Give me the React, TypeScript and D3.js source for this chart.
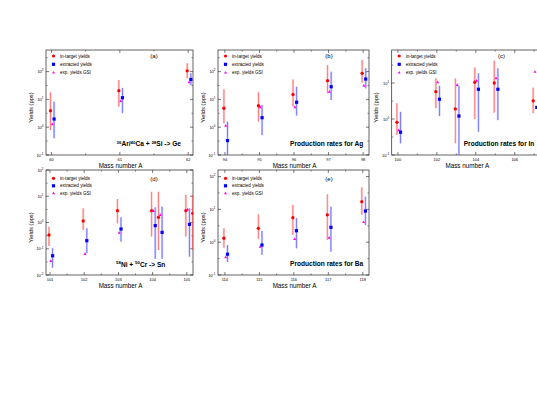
import React from "react";
import * as d3 from "d3";

// ---------- DATA ----------
// (a) Ge
const geMass = [60, 61, 62];
const geInTarget = [3.9, 20.6, 107];
const geInTargetLo = [0.79, 5.5, 57];
const geInTargetHi = [18, 50, 200];
const geExtracted = [1.97, 11.5, 52];
const geExtractedLo = [0.4, 3.2, 33];
const geExtractedHi = [8.3, 26, 87];
const geGSI = [1.27, 8.7, 41];

// (b) Ag
const agMass = [94, 95, 96, 97, 98];
const agInTarget = [4.8, 5.9, 15, 47, 87];
const agInTargetLo = [1.38, 1.6, 5.5, 16.6, 40];
const agInTargetHi = [23, 18, 52, 172, 261];
const agExtracted = [0.33, 2.2, 7.9, 28.6, 54];
const agExtractedLo = [0.05, 0.52, 2.6, 9.5, 25];
const agExtractedHi = [1.58, 6.3, 28.6, 100, 132];
const agGSI = [1.13, 5.2, 5.2, 19, 31];

// (c) In
const inMass = [100, 102, 103, 104, 105, 107];
const inInTarget = [0.81, 5.75, 1.9, 10.5, 10, 3.2];
const inInTargetLo = [0.36, 2.0, 0.21, 1.0, 1.5, 1.45];
const inInTargetHi = [2.73, 13.5, 13.5, 27, 42, 7.4];
const inExtracted = [0.43, 3.55, 1.21, 6.7, 6.7, 2.1];
const inExtractedLo = [0.21, 1.2, 0.08, 0.44, 0.93, 2.1];
const inExtractedHi = [1.58, 8.4, 8.4, 18.6, 25.7, 2.1];
const inGSI = [0.49, 10.5, 8.8, 11.6, 13.5, 20.4];

// (d) Sn (second entries at 104 and 105 drawn slightly to the right)
const snMass = [101, 102, 103, 104, 104.2, 105, 105.2];
const snInTarget = [0.334, 1.14, 2.82, 2.82, 1.58, 2.82, 2.24];
const snInTargetLo = [0.127, 0.52, 0.93, 0.29, 0.089, 0.29, 0.089];
const snInTargetHi = [0.69, 3.47, 7.85, 14.8, 14.8, 11.2, 11.2];
const snGSI = [0.034, 0.063, 0.41, 2.75, 1.93, 3.16, 4.9];
const snExtMass = [101, 102, 103, 104, 104.2, 105];
const snExtracted = [0.054, 0.203, 0.565, 0.76, 0.42, 0.85];
const snExtractedLo = [0.019, 0.068, 0.186, 0.041, 0.041, 0.05];
const snExtractedHi = [0.105, 0.6, 1.58, 3.8, 4.0, 3.47];

// (e) Ba
const baMass = [114, 115, 116, 117, 118];
const baInTarget = [1.32, 2.65, 5.6, 6.8, 17.2];
const baInTargetLo = [0.68, 1.26, 1.66, 1.17, 6.8];
const baInTargetHi = [2.65, 7.1, 13.6, 28.8, 46.8];
const baExtracted = [0.43, 0.82, 2.24, 2.84, 8.9];
const baExtractedLo = [0.25, 0.41, 0.65, 0.51, 3.3];
const baExtractedHi = [0.82, 2.19, 5.4, 12, 24.5];
const baGSI = [0.35, 0.72, 1.26, 1.37, 4.1];

const legendLabels = ["in-target yields", "extracted yields", "exp. yields GSI"];
const xTitle = "Mass number A";
const yTitle = "Yields (pps)";

// ---------- STYLE ----------
const FONT = "'Liberation Sans', Arial, Helvetica, sans-serif";
const RED = "#ff0000";
const BLUE = "#0000ff";
const MAG = "#ff00ff";
const RED_L = "#ff9090";
const BLUE_L = "#9090ff";

type Series = { x: number[]; v: number[]; lo?: number[]; hi?: number[] };

type PanelDef = {
  tag: string;
  left: number; right: number; top: number; bottom: number;
  xDomain: [number, number];
  yDomain: [number, number];
  xMajor: number[]; xMinor: number[];
  yExp: number[];
  red: Series; blue: Series; mag: Series;
  note: string;
};

const panels: PanelDef[] = [
  {
    tag: "(a)", left: 46, right: 193, top: 50, bottom: 155,
    xDomain: [59.92, 62.07], yDomain: [0.1, Math.pow(10, 2.777)],
    xMajor: [60, 61, 62], xMinor: [60.5, 61.5], yExp: [-1, 0, 1, 2],
    red: { x: geMass, v: geInTarget, lo: geInTargetLo, hi: geInTargetHi },
    blue: { x: geMass, v: geExtracted, lo: geExtractedLo, hi: geExtractedHi },
    mag: { x: geMass, v: geGSI },
    note: "ge",
  },
  {
    tag: "(b)", left: 218, right: 369, top: 50, bottom: 155,
    xDomain: [93.8, 98.17], yDomain: [0.1, Math.pow(10, 2.777)],
    xMajor: [94, 95, 96, 97, 98], xMinor: [94.5, 95.5, 96.5, 97.5], yExp: [-1, 0, 1, 2],
    red: { x: agMass, v: agInTarget, lo: agInTargetLo, hi: agInTargetHi },
    blue: { x: agMass, v: agExtracted, lo: agExtractedLo, hi: agExtractedHi },
    mag: { x: agMass, v: agGSI },
    note: "Production rates for Ag",
  },
  {
    tag: "(c)", left: 391.7, right: 541, top: 50, bottom: 155,
    xDomain: [99.68, 107.35], yDomain: [0.1, Math.pow(10, 1.917)],
    xMajor: [100, 102, 104, 106], xMinor: [101, 103, 105, 107], yExp: [-1, 0, 1],
    red: { x: inMass, v: inInTarget, lo: inInTargetLo, hi: inInTargetHi },
    blue: { x: inMass, v: inExtracted, lo: inExtractedLo, hi: inExtractedHi },
    mag: { x: inMass, v: inGSI },
    note: "Production rates for In",
  },
  {
    tag: "(d)", left: 46, right: 193, top: 170, bottom: 275,
    xDomain: [100.883, 105.18], yDomain: [0.01, 100],
    xMajor: [101, 102, 103, 104, 105], xMinor: [101.5, 102.5, 103.5, 104.5], yExp: [-2, -1, 0, 1, 2],
    red: { x: snMass, v: snInTarget, lo: snInTargetLo, hi: snInTargetHi },
    blue: { x: snExtMass, v: snExtracted, lo: snExtractedLo, hi: snExtractedHi },
    mag: { x: snMass, v: snGSI },
    note: "sn",
  },
  {
    tag: "(e)", left: 218, right: 369, top: 170, bottom: 275,
    xDomain: [113.8, 118.18], yDomain: [0.1, Math.pow(10, 2.2)],
    xMajor: [114, 115, 116, 117, 118], xMinor: [114.5, 115.5, 116.5, 117.5], yExp: [-1, 0, 1, 2],
    red: { x: baMass, v: baInTarget, lo: baInTargetLo, hi: baInTargetHi },
    blue: { x: baMass, v: baExtracted, lo: baExtractedLo, hi: baExtractedHi },
    mag: { x: baMass, v: baGSI },
    note: "Production rates for Ba",
  },
];

const DODGE = { red: -1, mag: 0.8, blue: 2.6 };

function Sup({ base, sup }: { base: string; sup: string }) {
  return (
    <>
      <tspan fontSize={4.4} dy={-2.4}>{sup}</tspan>
      <tspan dy={2.4}>{base}</tspan>
    </>
  );
}

function Panel({ p, idx }: { p: PanelDef; idx: number }) {
  const x = d3.scaleLinear().domain(p.xDomain).range([p.left, p.right]);
  const y = d3.scaleLog().domain(p.yDomain).range([p.bottom, p.top]);
  const clipId = `clip-${idx}`;
  const w = p.right - p.left;
  const h = p.bottom - p.top;
  const frameColor = "#222";

  const [lyLo, lyHi] = [Math.log10(p.yDomain[0]), Math.log10(p.yDomain[1])];
  const yMinor: number[] = [];
  for (let e = Math.floor(lyLo); e <= Math.ceil(lyHi); e++) {
    const m = Math.pow(10, e + 0.5);
    if (m > p.yDomain[0] && m < p.yDomain[1]) yMinor.push(m);
  }
  const yMajor = p.yExp.map((e) => Math.pow(10, e));

  const bars = (s: Series, dx: number, light: string, dark: string) =>
    s.lo && s.hi
      ? s.x.map((m, i) => {
          const cx = x(m) + dx;
          const y1 = y(Math.max(s.lo![i], 1e-6));
          const y2 = y(s.hi![i]);
          return (
            <g key={`b${i}`}>
              <line x1={cx} x2={cx} y1={y1} y2={y2} stroke={light} strokeWidth={2.2} opacity={0.45} />
              <line x1={cx} x2={cx} y1={y1} y2={y2} stroke={dark} strokeWidth={0.6} opacity={0.65} />
            </g>
          );
        })
      : null;

  const legendX = p.left + 7.5;
  const legendY = p.top + (p.top < 100 ? 6 : 8.3);
  const legendStep = p.top < 100 ? 8.3 : 7.5;

  return (
    <g>
      <defs>
        <clipPath id={clipId}>
          <rect x={p.left} y={p.top} width={w} height={h} />
        </clipPath>
      </defs>
      <rect x={p.left} y={p.top} width={w} height={h} fill="none" stroke={frameColor} strokeWidth={0.7} />
      {p.xMajor.map((t) => (
        <g key={`xt${t}`}>
          <line x1={x(t)} x2={x(t)} y1={p.bottom} y2={p.bottom - 3} stroke={frameColor} strokeWidth={0.6} />
          <line x1={x(t)} x2={x(t)} y1={p.top} y2={p.top + 3} stroke={frameColor} strokeWidth={0.6} />
          <text x={x(t)} y={p.bottom + 6.3} fontSize={4} textAnchor="middle" fontFamily={FONT}>{t}</text>
        </g>
      ))}
      {p.xMinor.filter((t) => t > p.xDomain[0] && t < p.xDomain[1]).map((t) => (
        <g key={`xm${t}`}>
          <line x1={x(t)} x2={x(t)} y1={p.bottom} y2={p.bottom - 1.6} stroke={frameColor} strokeWidth={0.5} />
          <line x1={x(t)} x2={x(t)} y1={p.top} y2={p.top + 1.6} stroke={frameColor} strokeWidth={0.5} />
        </g>
      ))}
      {yMajor.map((t, i) => (
        <g key={`yt${i}`}>
          <line x1={p.left} x2={p.left + 3} y1={y(t)} y2={y(t)} stroke={frameColor} strokeWidth={0.6} />
          <line x1={p.right} x2={p.right - 3} y1={y(t)} y2={y(t)} stroke={frameColor} strokeWidth={0.6} />
          <text x={p.left - 2.5} y={y(t) + 1.5} fontSize={4} textAnchor="end" fontFamily={FONT}>
            10<tspan fontSize={3} dy={-1.7}>{p.yExp[i]}</tspan>
          </text>
        </g>
      ))}
      {yMinor.map((t, i) => (
        <g key={`ym${i}`}>
          <line x1={p.left} x2={p.left + 1.6} y1={y(t)} y2={y(t)} stroke={frameColor} strokeWidth={0.5} />
          <line x1={p.right} x2={p.right - 1.6} y1={y(t)} y2={y(t)} stroke={frameColor} strokeWidth={0.5} />
        </g>
      ))}
      <text x={(p.left + p.right) / 2 + 1} y={p.bottom + 13} fontSize={6.3} textAnchor="middle" fontFamily={FONT}>{xTitle}</text>
      <text
        transform={`translate(${p.left - 13.5},${(p.top + p.bottom) / 2 + 5}) rotate(-90)`}
        fontSize={5.8} textAnchor="middle" fontFamily={FONT}
      >{yTitle}</text>

      <g clipPath={`url(#${clipId})`}>
        {bars(p.red, DODGE.red, RED_L, RED)}
        {bars(p.blue, DODGE.blue, BLUE_L, BLUE)}
        {p.red.x.map((m, i) => (
          <circle key={`r${i}`} cx={x(m) + DODGE.red} cy={y(p.red.v[i])} r={1.65} fill={RED} />
        ))}
        {p.mag.x.map((m, i) => {
          const cx = x(m) + DODGE.mag;
          const cy = y(p.mag.v[i]);
          const pts = [[cx, cy - 1.7], [cx - 1.5, cy + 1], [cx + 1.5, cy + 1]];
          return <polygon key={`m${i}`} points={pts.map((q) => q.join(",")).join(" ")} fill={MAG} />;
        })}
        {p.blue.x.map((m, i) => (
          <rect key={`bl${i}`} x={x(m) + DODGE.blue - 1.6} y={y(p.blue.v[i]) - 1.6} width={3.2} height={3.2} fill={BLUE} />
        ))}
      </g>

      <g fontFamily={FONT} fontSize={4.6}>
        <circle cx={legendX} cy={legendY} r={1.6} fill={RED} />
        <text x={legendX + 6.5} y={legendY + 1.6}>{legendLabels[0]}</text>
        <rect x={legendX - 1.6} y={legendY + legendStep - 1.6} width={3.2} height={3.2} fill={BLUE} />
        <text x={legendX + 6.5} y={legendY + legendStep + 1.6}>{legendLabels[1]}</text>
        <polygon
          points={`${legendX},${legendY + 2 * legendStep - 1.7} ${legendX - 1.5},${legendY + 2 * legendStep + 1} ${legendX + 1.5},${legendY + 2 * legendStep + 1}`}
          fill={MAG}
        />
        <text x={legendX + 6.5} y={legendY + 2 * legendStep + 1.6}>{legendLabels[2]}</text>
      </g>

      <text x={p.left + w * 0.735} y={p.top + (p.top < 100 ? 8 : 10.5)} fontSize={6} textAnchor="middle" fontFamily={FONT} fill="#000">{p.tag}</text>

      {p.note === "ge" ? (
        <text x={p.left + 70.5} y={p.bottom - 9} fontSize={6.6} fontWeight="bold" fontFamily={FONT}>
          <Sup base="Ar/" sup="36" />
          <Sup base="Ca + " sup="40" />
          <Sup base="Si -> Ge" sup="28" />
        </text>
      ) : p.note === "sn" ? (
        <text x={p.left + 70} y={p.bottom - 8.5} fontSize={6.6} fontWeight="bold" fontFamily={FONT}>
          <Sup base="Ni + " sup="58" />
          <Sup base="Cr -> Sn" sup="50" />
        </text>
      ) : (
        <text x={p.left + 72} y={p.bottom - 9} fontSize={6.6} fontWeight="bold" fontFamily={FONT}>{p.note}</text>
      )}
    </g>
  );
}

export default function App() {
  return (
    <svg
      width={537}
      height={415}
      viewBox="0 0 537 415"
      style={{ position: "absolute", left: 0, top: 0, background: "#fff" }}
    >
      <rect x={0} y={0} width={537} height={415} fill="#fff" />
      {panels.map((p, i) => (
        <Panel key={p.tag} p={p} idx={i} />
      ))}
    </svg>
  );
}
